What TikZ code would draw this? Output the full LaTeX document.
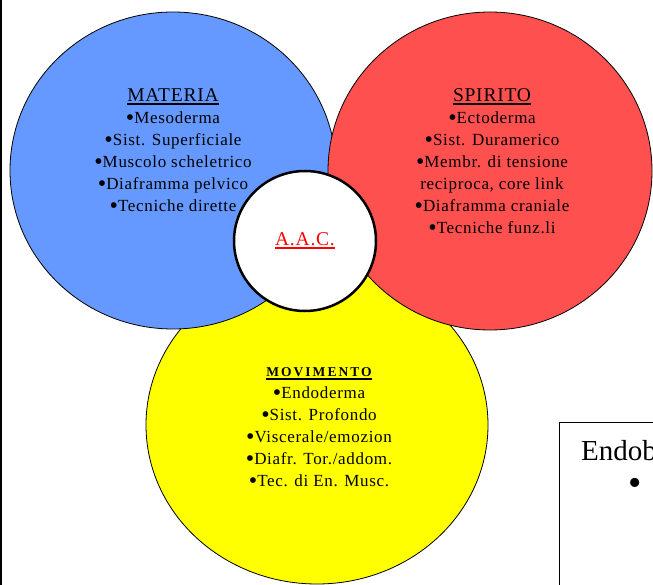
\documentclass[tikz,border=0pt]{standalone}
\usepackage{fontspec}
\setmainfont{Liberation Serif}
\newfontfamily\slidefont[LetterSpace=4]{Liberation Serif}
\usetikzlibrary{shapes.geometric, positioning}

\definecolor{matblue}{RGB}{102,153,255}
\definecolor{spired}{RGB}{255,80,80}
\definecolor{movyellow}{RGB}{255,255,0}
\definecolor{aacred}{RGB}{255,0,0}

% heading with a heavy underline
\newcommand{\headrule}[1]{\setbox0\hbox{#1}\rlap{\rule[-3.5pt]{\wd0}{1.8pt}}\box0}
\newcommand{\headfont}{\fontsize{19.5}{22}\selectfont}
% big list dot
\newcommand{\bigdot}{\raisebox{-2pt}{\fontsize{24}{22}\selectfont•}}

\begin{document}
\begin{tikzpicture}[
    x=1pt, y=-1pt,
    blob/.style={ellipse, draw=black, line width=0.8pt, inner sep=0pt},
    listtext/.style={align=center, anchor=north, inner sep=0pt, font=\slidefont\fontsize{17}{22}\selectfont}
    ]
\useasboundingbox (0,0) rectangle (653,585);
\clip (0,0) rectangle (653,585);

% Circles (yellow behind the other two)
\node[blob, fill=movyellow, minimum width=342pt, minimum height=318pt] (movimento) at (317,425) {};
\node[blob, fill=matblue, minimum width=326pt, minimum height=317pt] (materia) at (173,170.5) {};
\node[blob, fill=spired, minimum width=324pt, minimum height=318pt] (spirito) at (490,171) {};
\node[blob, fill=white, line width=2.5pt, minimum width=142pt, minimum height=140pt,
      text=aacred, font=\slidefont\headfont] (aac) at (305,241) {\headrule{A.A.C.}};

% Lists
\node[listtext] (mattext) at (173,88) {{\headfont\headrule{MATERIA}}\\\bigdot Mesoderma\\\bigdot Sist. Superficiale\\\bigdot Muscolo scheletrico\\\bigdot Diaframma pelvico\\\bigdot Tecniche dirette};
\node[listtext] (spitext) at (492,88) {{\headfont\headrule{SPIRITO}}\\\bigdot Ectoderma\\\bigdot Sist. Duramerico\\\bigdot Membr. di tensione\\reciproca, core link\\\bigdot Diaframma craniale\\\bigdot Tecniche funz.li};
\node[listtext] (movtext) at (319,367) {{\addfontfeature{LetterSpace=15}\fontsize{13.5}{22}\selectfont\bfseries\headrule{MOVIMENTO}}\\\bigdot Endoderma\\\bigdot Sist. Profondo\\\bigdot Viscerale/emozion\\\bigdot Diafr. Tor./addom.\\\bigdot Tec. di En. Musc.};

% Box in the corner
\node[draw, line width=1.2pt, anchor=north west, minimum width=150pt, minimum height=200pt] (endobox) at (559,422) {};
\node[anchor=base west, inner sep=0pt, font=\fontsize{29}{30}\selectfont] (endotitle) at (581,460) {Endob};
\node[inner sep=0pt, font=\fontsize{38}{30}\selectfont] (endobullet) at (635,487) {•};

% frame line on the left
\draw[line width=2pt] (1,0) -- (1,585);

\end{tikzpicture}
\end{document}
